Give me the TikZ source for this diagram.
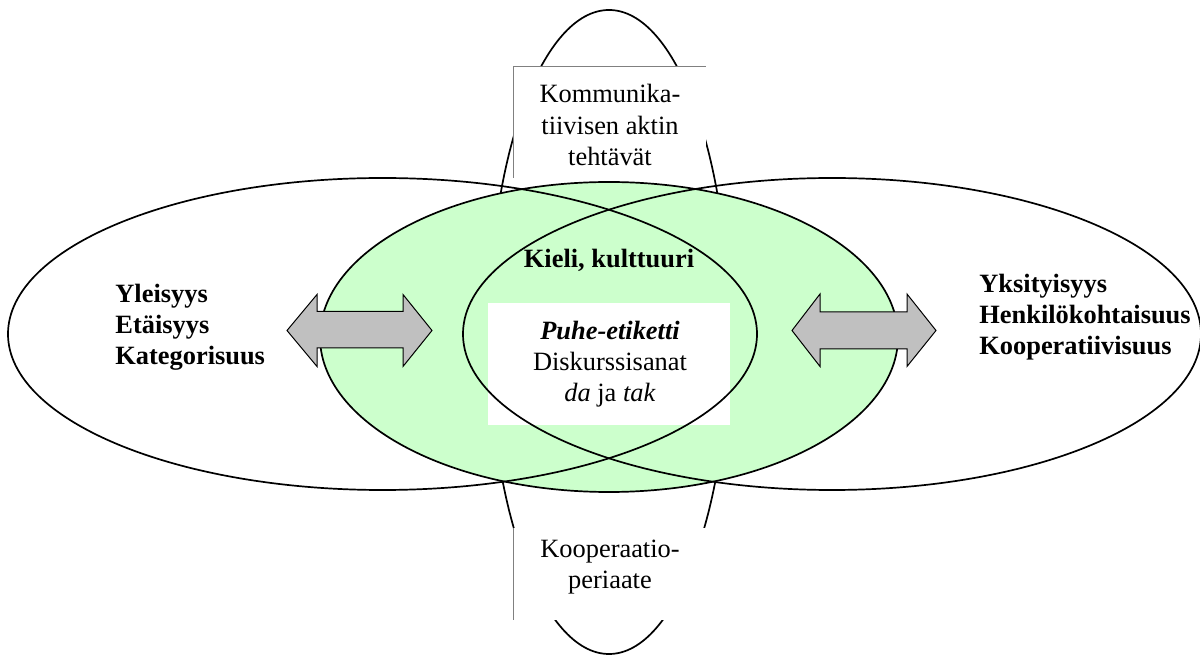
\documentclass[tikz,border=0pt]{standalone}
\usepackage{fontspec}
\setmainfont{Liberation Serif}
\usetikzlibrary{positioning, shapes.arrows}

\definecolor{palegreen}{HTML}{CCFFCC}
\definecolor{arrowgray}{HTML}{C0C0C0}

\newcommand{\labelsize}{\fontsize{13.2}{15.6}\selectfont}

\tikzset{
  oval/.style={draw=black, line width=0.85pt},
  textbox/.style={fill=white, draw=none},
  boxedge/.style={draw=gray, line width=0.5pt},
  label/.style={font=\labelsize, inner sep=0pt},
  boldlabel/.style={font=\labelsize\bfseries, inner sep=0pt},
  dblarrow/.style={draw=black, fill=arrowgray, line width=0.5pt, line join=miter}
}

\begin{document}
\begin{tikzpicture}[x=0.5pt, y=-0.5pt]
    \useasboundingbox (0,0) rectangle (1200,657);

    % tall oval behind everything
    \draw[oval, fill=white] (609,332) ellipse [x radius=120, y radius=322];

    % green core
    \fill[palegreen] (609,337) ellipse [x radius=289, y radius=155];
    \draw[oval] (609,337) ellipse [x radius=289, y radius=155];

    % text boxes
    \fill[textbox] (513,67) rectangle (706,178);
    \draw[boxedge] (513,178) -- (513,67) -- (706,67);
    \fill[textbox] (513,528) rectangle (706,620);
    \draw[boxedge] (513,528) -- (513,620);
    \fill[textbox] (488,303) rectangle (730,425);

    % side ovals
    \draw[oval] (382.5,334) ellipse [x radius=374.5, y radius=156];
    \draw[oval] (832,334) ellipse [x radius=369, y radius=156];

    % double arrows
    \draw[dblarrow] (287,330.5) -- (317,294.5) -- (317,311.5) -- (403,311.5) -- (403,294.5)
        -- (432,330.5) -- (403,366.5) -- (403,348) -- (317,348) -- (317,366.5) -- cycle;
    \draw[dblarrow] (792,330.5) -- (820,294) -- (820,312) -- (907,312) -- (907,294)
        -- (936,330.5) -- (907,366.5) -- (907,349) -- (820,349) -- (820,366.5) -- cycle;

    % labels
    \node[boldlabel, anchor=west, align=left] (general) at (115,327)
        {Yleisyys\\Etäisyys\\Kategorisuus};
    \node[boldlabel, anchor=west, align=left] (personal) at (979,317)
        {Yksityisyys\\Henkilökohtaisuus\\Kooperatiivisuus};
    \node[label, align=center] (tasks) at (610,125)
        {Kommunika-\\tiivisen aktin\\tehtävät};
    \node[label, align=center] (coop) at (610,567)
        {Kooperaatio-\\periaate};
    \node[boldlabel, anchor=base] (culture) at (609,268)
        {Kieli, kulttuuri};
    \node[label, align=center] (etiquette) at (610,364)
        {\textbf{\textit{Puhe-etiketti}}\\Diskurssisanat\\\textit{da} ja \textit{tak}};
\end{tikzpicture}
\end{document}
